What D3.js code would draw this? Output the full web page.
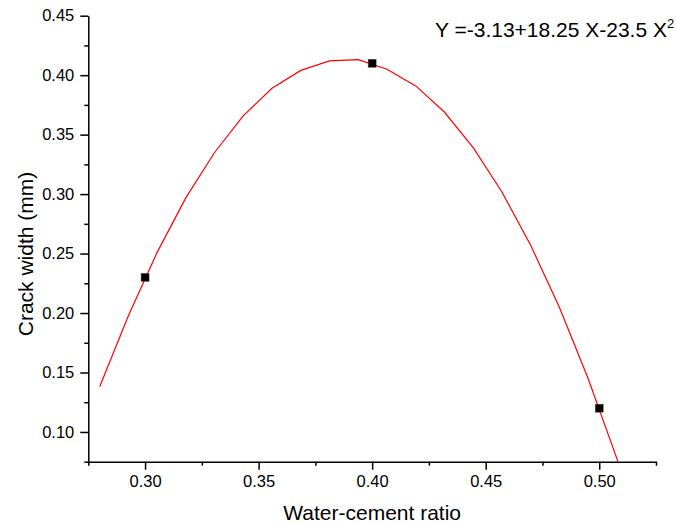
<!DOCTYPE html>
<html>
<head>
    <script src="https://cdnjs.cloudflare.com/ajax/libs/d3/7.8.5/d3.min.js"></script>
    <style>
        body { margin: 0; background: #fff; }
        text { font-family: Arial, "Liberation Sans", sans-serif; fill: #000; }
        .axis path, .axis line { stroke: #000; stroke-width: 1.5px; }
        .tick text { font-size: 16.5px; }
    </style>
</head>
<body>
    <div id="chart"></div>
    <script>
        const width = 676, height = 525;
        const margin = { top: 15.7, right: 20, bottom: 63.3, left: 88.3 };

        // measured points
        const ratio = [0.30, 0.40, 0.50];
        const crack = [0.23, 0.41, 0.12];

        // fitted curve vertices
        const fitX = [0.280, 0.2927, 0.3053, 0.3180, 0.3306, 0.3433, 0.3559, 0.3686, 0.3812, 0.3939,
                      0.4065, 0.4192, 0.4318, 0.4445, 0.4571, 0.4698, 0.4824, 0.4951, 0.5077, 0.5204];
        const fitY = [0.138, 0.198, 0.251, 0.297, 0.335, 0.366, 0.389, 0.404, 0.412, 0.413,
                      0.405, 0.391, 0.369, 0.339, 0.302, 0.257, 0.205, 0.145, 0.078, 0.003];

        const xMajor = [0.30, 0.35, 0.40, 0.45, 0.50];
        const xMinor = [0.275, 0.325, 0.375, 0.425, 0.475, 0.525];
        const yMajor = [0.10, 0.15, 0.20, 0.25, 0.30, 0.35, 0.40, 0.45];
        const yMinor = [0.075, 0.125, 0.175, 0.225, 0.275, 0.325, 0.375, 0.425];

        const iw = 656 - margin.left;
        const ih = 461.7 - margin.top;

        const svg = d3.select("#chart").append("svg")
            .attr("width", width).attr("height", height);
        const g = svg.append("g").attr("transform", `translate(${margin.left},${margin.top})`);

        const x = d3.scaleLinear().domain([0.275, 0.525]).range([0, iw]);
        const y = d3.scaleLinear().domain([0.075, 0.45]).range([ih, 0]);

        svg.append("defs").append("clipPath").attr("id", "clip")
            .append("rect").attr("width", iw).attr("height", ih);

        // minor ticks first, then major axes
        g.append("g").attr("class", "axis")
            .attr("transform", `translate(0,${ih})`)
            .call(d3.axisBottom(x).tickValues(xMinor).tickSize(4).tickFormat(""))
            .select(".domain").remove();
        g.append("g").attr("class", "axis")
            .call(d3.axisLeft(y).tickValues(yMinor).tickSize(4).tickFormat(""))
            .select(".domain").remove();

        g.append("g").attr("class", "axis")
            .attr("transform", `translate(0,${ih})`)
            .call(d3.axisBottom(x).tickValues(xMajor).tickSize(8).tickSizeOuter(0).tickPadding(6).tickFormat(d3.format(".2f")));
        g.append("g").attr("class", "axis")
            .call(d3.axisLeft(y).tickValues(yMajor).tickSize(8).tickSizeOuter(0).tickPadding(6).tickFormat(d3.format(".2f")));

        const line = d3.line().x(d => x(d[0])).y(d => y(d[1]));
        g.append("path")
            .datum(d3.zip(fitX, fitY))
            .attr("clip-path", "url(#clip)")
            .attr("fill", "none")
            .attr("stroke", "#ff0000")
            .attr("stroke-width", 1.2)
            .attr("d", line);

        g.selectAll(".pt")
            .data(d3.zip(ratio, crack))
            .enter().append("rect")
            .attr("class", "pt")
            .attr("x", d => x(d[0]) - 4)
            .attr("y", d => y(d[1]) - 4)
            .attr("width", 8).attr("height", 8)
            .attr("fill", "#000")
            .attr("stroke", "#555").attr("stroke-width", 0.5);

        svg.append("text")
            .attr("x", margin.left + iw / 2).attr("y", 520)
            .attr("text-anchor", "middle")
            .style("font-size", "21px")
            .text("Water-cement ratio");

        svg.append("text")
            .attr("transform", "translate(33,254) rotate(-90)")
            .attr("text-anchor", "middle")
            .style("font-size", "21px")
            .text("Crack width (mm)");

        const eq = svg.append("text")
            .attr("x", 435).attr("y", 37)
            .style("font-size", "21px");
        eq.append("tspan").text("Y =-3.13+18.25 X-23.5 X");
        eq.append("tspan").attr("dy", -9).style("font-size", "13px").text("2");
    </script>
</body>
</html>
